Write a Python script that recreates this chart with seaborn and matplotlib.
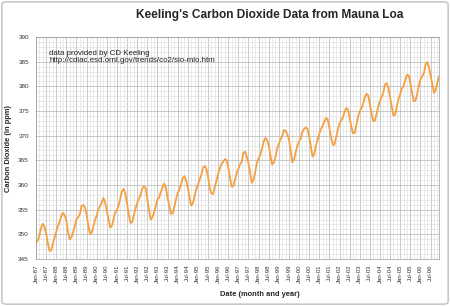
import numpy as np
import pandas as pd
import matplotlib
matplotlib.use("Agg")
import matplotlib.pyplot as plt
import seaborn as sns
from matplotlib.patches import FancyBboxPatch
from matplotlib.ticker import MultipleLocator

# monthly mean CO2 (ppm), Jan 1987 .. Dec 2006, one row per year
co2 = [
    348.38, 348.70, 349.72, 351.32, 352.14, 351.61, 350.21, 348.20, 346.66, 346.72, 348.08, 349.28,
    350.51, 351.70, 352.50, 353.67, 354.35, 353.88, 352.80, 350.49, 348.97, 349.37, 350.42, 351.62,
    353.07, 353.43, 354.08, 355.72, 355.95, 355.44, 354.05, 351.84, 350.09, 350.33, 351.55, 352.91,
    353.86, 355.10, 355.75, 356.38, 357.38, 356.39, 354.89, 353.06, 351.38, 351.69, 353.14, 354.41,
    354.93, 355.82, 357.33, 358.77, 359.23, 358.23, 356.30, 353.97, 352.34, 352.43, 353.89, 355.21,
    356.34, 357.21, 357.97, 359.22, 359.71, 359.43, 357.15, 354.99, 353.01, 353.41, 354.42, 355.68,
    357.10, 357.42, 358.59, 359.39, 360.30, 359.64, 357.45, 355.76, 354.14, 354.23, 355.53, 357.03,
    358.36, 359.04, 360.11, 361.36, 361.78, 360.94, 359.51, 357.59, 355.86, 356.21, 357.65, 359.10,
    360.04, 361.00, 361.98, 363.44, 363.83, 363.33, 361.78, 359.33, 358.32, 358.14, 359.61, 360.82,
    362.20, 363.36, 364.28, 364.69, 365.25, 365.06, 363.69, 361.55, 359.69, 359.72, 361.04, 362.39,
    363.24, 364.21, 364.65, 366.49, 366.77, 365.73, 364.46, 362.40, 360.44, 360.98, 362.65, 364.51,
    365.39, 366.10, 367.36, 368.79, 369.56, 369.13, 367.98, 366.10, 364.16, 364.54, 365.67, 367.30,
    368.35, 369.28, 369.84, 371.15, 370.97, 370.33, 369.25, 366.91, 364.60, 365.09, 366.63, 367.96,
    368.82, 369.46, 370.77, 371.37, 371.65, 371.40, 369.81, 367.81, 365.75, 366.18, 367.94, 369.22,
    370.44, 371.31, 372.02, 372.88, 373.57, 373.34, 371.57, 369.66, 368.16, 368.18, 369.71, 371.18,
    372.45, 373.05, 373.71, 374.81, 375.63, 375.29, 373.62, 371.83, 370.46, 370.56, 372.23, 373.79,
    374.92, 375.61, 376.48, 377.74, 378.50, 378.17, 376.41, 374.41, 372.97, 373.05, 374.47, 375.93,
    377.04, 377.89, 378.73, 380.41, 380.64, 379.58, 377.80, 375.84, 374.05, 374.27, 375.91, 377.42,
    378.39, 379.57, 380.10, 381.27, 382.37, 382.20, 380.66, 378.72, 376.98, 377.07, 378.35, 380.02,
    381.37, 382.03, 382.64, 384.34, 384.92, 384.03, 382.27, 380.40, 378.67, 379.18, 380.71, 382.01,
]
years = list(range(1987, 2007))
tick_months = ["Jan", "Jul"]
y_ticks = [345, 350, 355, 360, 365, 370, 375, 380, 385, 390]

df = pd.DataFrame({"month": np.arange(len(co2)), "co2": co2})
tick_pos = np.arange(0, len(co2), 6)
tick_labels = [f"{m}-{str(y)[2:]}" for y in years for m in tick_months]

sns.set_style("white")
plt.rcParams["font.family"] = ["Liberation Sans", "DejaVu Sans"]

fig = plt.figure(figsize=(4.5, 3.06), dpi=100)
ax = fig.add_axes([36 / 450, 1 - 259 / 306, 403 / 450, 222 / 306])

sns.lineplot(data=df, x="month", y="co2", ax=ax, color="#F5A040", linewidth=1.3)

ax.set_xlim(0, len(co2) - 1)
ax.set_ylim(345, 390)
ax.set_yticks(y_ticks)
ax.set_xticks(tick_pos)
ax.set_xticklabels(tick_labels, rotation=90, fontsize=4.3, color="#333333")
ax.tick_params(axis="y", labelsize=4.6, labelcolor="#333333", length=2, width=0.4, color="#888888", pad=3)
ax.tick_params(axis="x", length=2, width=0.4, color="#888888", pad=2)
ax.xaxis.set_minor_locator(MultipleLocator(2))
ax.yaxis.set_minor_locator(MultipleLocator(1))
ax.grid(which="major", color="#b4b4b4", linewidth=0.5)
ax.grid(which="minor", color="#dcdcdc", linewidth=0.4)
ax.set_axisbelow(True)
for s in ax.spines.values():
    s.set_color("#9a9a9a")
    s.set_linewidth(0.5)
ax.set_xlabel("")
ax.set_ylabel("")

fig.text(270 / 450, 1 - 15 / 306, "Keeling's Carbon Dioxide Data from Mauna Loa",
         ha="center", va="center", fontsize=8.6, fontweight="bold")
fig.text(260 / 450, 1 - 295 / 306, "Date (month and year)",
         ha="center", va="center", fontsize=5.4, fontweight="bold")
fig.text(9 / 450, 1 - 148 / 306, "Carbon Dioxide (in ppm)", rotation=90,
         ha="center", va="center", fontsize=5.4, fontweight="bold")
fig.text(49 / 450, 1 - 57 / 306, "data provided by CD Keeling\nhttp://cdiac.esd.ornl.gov/trends/co2/sio-mlo.htm",
         ha="left", va="center", fontsize=5.7, color="#222222", linespacing=1.15)

fig.patches.append(FancyBboxPatch((0.004, 0.006), 0.992, 0.988, boxstyle="round,pad=0,rounding_size=0.01",
                                  transform=fig.transFigure, fill=False, edgecolor="#c8c8c8", linewidth=1.2))

fig.savefig("out.png", dpi=100)
